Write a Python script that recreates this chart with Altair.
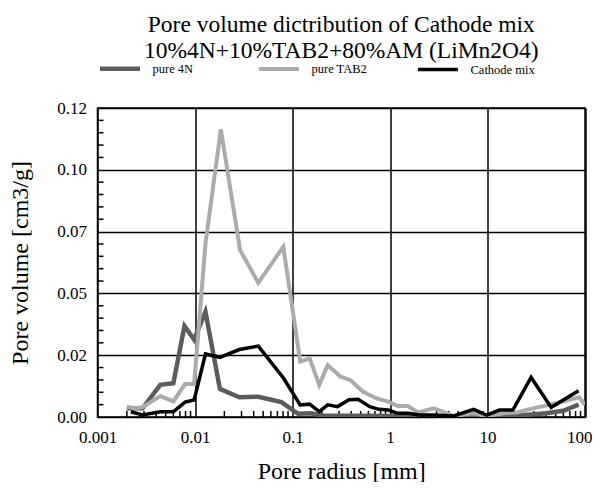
import altair as alt
import pandas as pd

# ---- data ----
x_4n = [0.002, 0.0029, 0.0044, 0.006, 0.0078, 0.0098, 0.0128, 0.018, 0.0285, 0.0446,
        0.077, 0.114, 0.155, 0.2, 0.3, 0.5, 1, 2, 5, 10, 20, 40, 60, 86]
y_4n = [0.0035, 0.0035, 0.013, 0.0137, 0.0368, 0.0313, 0.0426, 0.0114, 0.008, 0.0082,
        0.006, 0.0013, 0.0015, 0.0006, 0.0005, 0.0005, 0.0004, 0.0004, 0.0003, 0.0004,
        0.0005, 0.0015, 0.0025, 0.005]

x_tab2 = [0.002, 0.0024, 0.0029, 0.0044, 0.006, 0.0079, 0.0098, 0.0128, 0.0184, 0.029,
          0.0446, 0.0805, 0.12, 0.15, 0.188, 0.23, 0.31, 0.39, 0.53, 0.73, 0.96, 1.2,
          1.52, 1.94, 2.8, 3.5, 4.5, 7.2, 9.8, 14.5, 19.9, 29.2, 43, 59, 87, 100]
y_tab2 = [0.0042, 0.0035, 0.004, 0.0085, 0.0063, 0.0133, 0.0133, 0.07, 0.1164, 0.0675,
          0.0543, 0.0689, 0.0224, 0.0237, 0.013, 0.021, 0.0163, 0.015, 0.0102, 0.0075,
          0.0062, 0.0044, 0.0044, 0.0018, 0.0035, 0.0022, 0.0004, 0.0015, 0.0004, 0.0015,
          0.0018, 0.0035, 0.0049, 0.0062, 0.008, 0.005]

x_mix = [0.0022, 0.0029, 0.0044, 0.006, 0.0079, 0.0098, 0.0128, 0.018, 0.0285, 0.0446,
         0.08, 0.12, 0.15, 0.188, 0.23, 0.29, 0.38, 0.47, 0.62, 0.77, 0.96, 1.2, 1.55,
         2.0, 2.8, 4.5, 7.2, 9.8, 13.3, 18.2, 28, 45, 86]
y_mix = [0.0021, 0.0008, 0.0021, 0.0021, 0.006, 0.0069, 0.0255, 0.0241, 0.0273, 0.0287,
         0.016, 0.0049, 0.0052, 0.0022, 0.0049, 0.0042, 0.007, 0.0072, 0.0042, 0.0031,
         0.0028, 0.0015, 0.0015, 0.0008, 0.0008, 0.0004, 0.0031, 0.0008, 0.0028, 0.0028,
         0.016, 0.0039, 0.0106]

series_names = ["pure 4N", "pure TAB2", "Cathode mix"]
series_colors = ["#5c5c5c", "#ababab", "#000000"]
series_widths = [4.5, 3.5, 3.5]

x_ticks = [0.001, 0.01, 0.1, 1, 10, 100]
y_ticks = [0, 0.025, 0.05, 0.075, 0.1, 0.125]
x_minor = [m * 10.0 ** k for k in range(-3, 2) for m in range(2, 10)]
y_minor = [i * 0.005 for i in range(1, 25) if i % 5 != 0]

FONT = "Liberation Serif"

rows = []
for name, xs, ys in [(series_names[0], x_4n, y_4n),
                     (series_names[1], x_tab2, y_tab2),
                     (series_names[2], x_mix, y_mix)]:
    for i, (a, b) in enumerate(zip(xs, ys)):
        rows.append({"series": name, "r": a, "v": b, "i": i})
df = pd.DataFrame(rows)

xscale = alt.Scale(type="log", domain=[0.001, 100])
yscale = alt.Scale(domain=[0, 0.125])

lines = alt.Chart(df).mark_line(clip=True).encode(
    x=alt.X("r:Q", scale=xscale,
            axis=alt.Axis(values=x_ticks, format="~g", grid=True, ticks=False,
                          labelFlush=False, title="Pore radius [mm]",
                          labelAlign={"condition": {"test": "datum.value >= 100",
                                                    "value": "right"},
                                      "value": "center"},
                          labelOffset={"condition": {"test": "datum.value >= 100",
                                                     "value": 7},
                                       "value": 0},
                          labelPadding=12, titlePadding=14)),
    y=alt.Y("v:Q", scale=yscale,
            axis=alt.Axis(values=y_ticks, grid=True, ticks=False,
                          labelExpr="format(floor(datum.value*100+1e-9)/100, '.2f')",
                          title="Pore volume [cm3/g]", labelPadding=11, titlePadding=24)),
    color=alt.Color("series:N",
                    scale=alt.Scale(domain=series_names, range=series_colors),
                    legend=alt.Legend(title=None, orient="none", legendX=0, legendY=-62,
                                      direction="horizontal", columns=3,
                                      symbolType="stroke", symbolSize=1600,
                                      symbolStrokeWidth=4, labelFont=FONT,
                                      labelFontSize=12.5, labelColor="#000",
                                      columnPadding=33, labelOffset=10,
                                      gridAlign="all")),
    strokeWidth=alt.StrokeWidth("series:N",
                                scale=alt.Scale(domain=series_names, range=series_widths),
                                legend=None),
    order="i:Q",
)

mdf_x = pd.DataFrame({"r": x_minor})
minor_x = alt.Chart(mdf_x).mark_rule(color="black", strokeWidth=1.5).encode(
    x=alt.X("r:Q", scale=xscale), y=alt.value(309), y2=alt.value(303))

mdf_y = pd.DataFrame({"v": y_minor})
minor_y = alt.Chart(mdf_y).mark_rule(color="black", strokeWidth=1.5).encode(
    y=alt.Y("v:Q", scale=yscale), x=alt.value(0), x2=alt.value(6))

chart = alt.layer(minor_x, minor_y, lines).properties(
    width=487.5, height=309,
    background="white",
    autosize=alt.AutoSizeParams(type="none"),
    padding={"left": 89.5, "top": 100, "right": 7, "bottom": 65},
    title=alt.Title(text=["Pore volume dictribution of Cathode mix",
                          "10%4N+10%TAB2+80%AM (LiMn2O4)"],
                    font=FONT, fontSize=23.5, fontWeight="normal", color="#000",
                    anchor="middle", offset=-16, lineHeight=26),
).configure_view(stroke="black", strokeWidth=1.5).configure_axis(
    gridColor="black", gridWidth=1.5, gridOpacity=1, domain=False,
    labelFont=FONT, labelFontSize=17, labelColor="#000",
    titleFont=FONT, titleFontSize=24, titleFontWeight="normal", titleColor="#000",
)

chart.save("out.html", embed_options={"renderer": "svg", "actions": False})
